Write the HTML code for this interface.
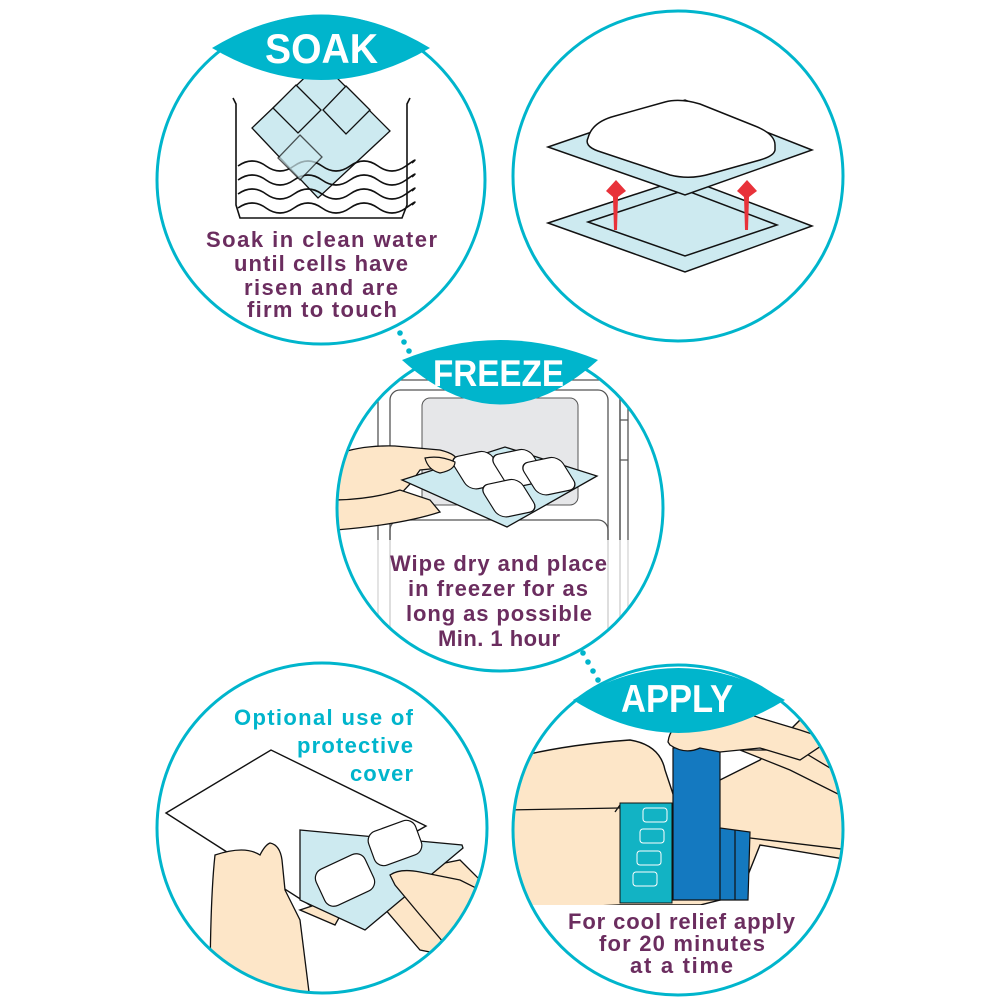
<!DOCTYPE html>
<html><head><meta charset="utf-8"><style>
html,body{margin:0;padding:0;background:#fff;}
svg{display:block;}
.t{font-family:"Liberation Sans",sans-serif;font-weight:bold;}
</style></head><body>
<svg width="1000" height="1000" viewBox="0 0 1000 1000" xmlns="http://www.w3.org/2000/svg">
<defs>
<clipPath id="c1"><circle cx="321" cy="180" r="164"/></clipPath>
<clipPath id="c3"><circle cx="500" cy="508" r="163"/></clipPath>
<clipPath id="c4"><circle cx="322" cy="828" r="165"/></clipPath>
<clipPath id="c5"><circle cx="678" cy="830" r="165"/></clipPath>
</defs>
<rect width="1000" height="1000" fill="#fff"/>

<!-- SOAK -->
<g clip-path="url(#c1)">
  <g fill="none" stroke="#111" stroke-width="1.6">
    <path d="M233,98 L236,104 L236,205 L240,218 L402,218 L407,205 L407,104 L410,98"/>
  </g>
  <g stroke="#111" stroke-width="1.3">
    <polygon points="321,62 390,131 318,198 252,128" fill="#cdeaf0"/>
    <polygon points="296,85 321,110 298,133 273,108" fill="#cdeaf0"/>
    <polygon points="346,86 370,110 346,134 323,110" fill="#cdeaf0"/>
  </g>
  <g fill="none" stroke="#111" stroke-width="1.6">
    <path d="M238,166 q14,-10 28,0 t28,0 t28,0 t28,0 t28,0 t28,0 t6,-3"/>
    <path d="M238,180 q14,-10 28,0 t28,0 t28,0 t28,0 t28,0 t28,0 t6,-3"/>
    <path d="M238,194 q14,-10 28,0 t28,0 t28,0 t28,0 t28,0 t28,0 t6,-3"/>
    <path d="M238,208 q14,-10 28,0 t28,0 t28,0 t28,0 t28,0 t28,0 t6,-3"/>
  </g>
  <polygon points="300,135 322,157 300,180 278,158" fill="#cdeaf0" stroke="#111" stroke-width="1.3" opacity="0.7"/>
</g>
<circle cx="321" cy="180" r="164" fill="none" stroke="#00b5cc" stroke-width="3"/>
<path d="M212,48 Q321,-18 430,48 Q321,112 212,48Z" fill="#00b5cc"/>
<text class="t" x="265" y="63" font-size="42" fill="#fff" textLength="113" lengthAdjust="spacingAndGlyphs">SOAK</text>
<g class="t" font-size="22" fill="#6b2d5f" lengthAdjust="spacingAndGlyphs">
  <text x="206" y="247" textLength="231">Soak in clean water</text>
  <text x="234" y="271" textLength="174">until cells have</text>
  <text x="244" y="295" textLength="154">risen and are</text>
  <text x="247" y="317" textLength="150">firm to touch</text>
</g>

<!-- TOP RIGHT -->
<circle cx="678" cy="176" r="165" fill="none" stroke="#00b5cc" stroke-width="3"/>
<g stroke="#111" stroke-width="1.5">
  <polygon points="548,223 685,178 812,226 685,272" fill="#cdeaf0"/>
  <polygon points="588,222 685,190 777,225 685,256" fill="#cdeaf0"/>
  <polygon points="548,147 685,100 812,150 685,195" fill="#cdeaf0"/>
  <path d="M588,138 Q592,122 615,116 L665,102 Q680,98 700,104 L755,126 Q775,134 775,145 L775,150 Q774,156 760,160 L710,174 Q690,180 670,175 L598,151 Q584,146 588,138Z" fill="#fff"/>
</g>
<g fill="#e8323a">
  <path d="M616,180 L626,191 L618,197 L617,230 L614,230 L613,197 L606,191Z"/>
  <path d="M747,180 L757,191 L749,197 L748,230 L745,230 L744,197 L737,191Z"/>
</g>

<!-- FREEZE -->
<g clip-path="url(#c3)">
  <g fill="none" stroke="#555" stroke-width="1.3">
    <rect x="378" y="380" width="242" height="300" rx="12"/>
    <rect x="390" y="390" width="218" height="290" rx="10"/>
    <rect x="390" y="520" width="218" height="160" rx="10"/>
    <path d="M620,395 V680 M628,400 V680 M620,420 h8 v40 h-8"/>
  </g>
  <rect x="422" y="398" width="156" height="107" rx="8" fill="#e6e7e9" stroke="#555" stroke-width="1"/>
  <path d="M335,455 Q360,445 395,446 L440,450 Q460,455 455,462 L440,468 L420,470 L410,484 L395,500 L370,510 L335,525Z" fill="#fde6c8" stroke="#111" stroke-width="1.3"/>
  <path d="M330,500 Q370,500 400,490 L430,500 L440,512 Q400,525 335,530Z" fill="#fde6c8" stroke="#111" stroke-width="1.3"/>
  <polygon points="402,480 505,447 597,476 507,527" fill="#cdeaf0" stroke="#111" stroke-width="1.3"/>
  <g fill="#fff" stroke="#111" stroke-width="1.2">
    <rect x="-20" y="-20" width="40" height="36" rx="9" transform="translate(480,472) rotate(-12) skewX(20)"/>
    <rect x="-20" y="-20" width="40" height="36" rx="9" transform="translate(520,470) rotate(-12) skewX(20)"/>
    <rect x="-20" y="-20" width="40" height="36" rx="9" transform="translate(550,478) rotate(-12) skewX(20)"/>
    <rect x="-20" y="-20" width="40" height="36" rx="9" transform="translate(510,500) rotate(-12) skewX(20)"/>
  </g>
  <path d="M425,458 Q440,455 455,462 Q455,470 440,473 Q428,470 425,458Z" fill="#fde6c8" stroke="#111" stroke-width="1.2"/>
  <rect x="360" y="540" width="280" height="120" fill="#fff" opacity="0.75"/>
</g>
<circle cx="500" cy="508" r="163" fill="none" stroke="#00b5cc" stroke-width="3"/>
<path d="M402,360 Q500,320 598,360 Q500,449 402,360Z" fill="#00b5cc"/>
<text class="t" x="433" y="386" font-size="37" fill="#fff" textLength="131" lengthAdjust="spacingAndGlyphs">FREEZE</text>
<g class="t" font-size="22" fill="#6b2d5f" lengthAdjust="spacingAndGlyphs">
  <text x="390" y="571" textLength="217">Wipe dry and place</text>
  <text x="408" y="596" textLength="180">in freezer for as</text>
  <text x="406" y="621" textLength="186">long as possible</text>
  <text x="438" y="646" textLength="122">Min. 1 hour</text>
</g>

<!-- BOTTOM LEFT -->
<g clip-path="url(#c4)">
  <path d="M166,813 L271,750 L426,826 L405,838 L330,918Z" fill="#fff" stroke="#111" stroke-width="1.4"/>
  <path d="M300,910 L335,925 L360,880 L420,950 L470,960 L490,890 L460,860 L400,872 L390,880Z" fill="#fde6c8" stroke="#111" stroke-width="1.3"/>
  <path d="M300,830 L462,845 L463,848 L365,930 L300,900Z" fill="#cdeaf0" stroke="#111" stroke-width="1.3"/>
  <rect x="-27" y="-20" width="54" height="40" rx="10" transform="translate(345,880) rotate(-25)" fill="#fff" stroke="#111" stroke-width="1.2"/>
  <rect x="-25" y="-18" width="50" height="36" rx="10" transform="translate(395,843) rotate(-20)" fill="#fff" stroke="#111" stroke-width="1.2"/>
  <path d="M215,855 Q245,845 260,855 Q265,845 270,843 Q280,845 282,860 L285,890 L300,920 L310,1000 L210,1000 Q210,900 215,855Z" fill="#fde6c8" stroke="#111" stroke-width="1.3"/>
  <path d="M390,875 Q400,868 420,872 L460,880 L480,890 L480,945 L450,950 L420,915 L395,885Z" fill="#fde6c8" stroke="#111" stroke-width="1.3"/>
</g>
<circle cx="322" cy="828" r="165" fill="none" stroke="#00b5cc" stroke-width="3"/>
<g class="t" font-size="22" fill="#00b5cc" lengthAdjust="spacingAndGlyphs">
  <text x="234" y="725" textLength="179">Optional use of</text>
  <text x="297" y="753" textLength="116">protective</text>
  <text x="350" y="781" textLength="63">cover</text>
</g>

<!-- APPLY -->
<g clip-path="url(#c5)">
  <path d="M505,760 Q560,745 630,740 Q660,745 665,770 L675,800 L700,790 L760,760 L800,720 L850,720 L850,860 L760,845 L740,895 L700,905 L620,905 L505,910Z" fill="#fde6c8" stroke="#111" stroke-width="1.4"/>
  <path d="M505,810 L620,808 M615,812 L620,805" fill="none" stroke="#111" stroke-width="1.3"/>
  <path d="M750,838 L850,850" fill="none" stroke="#111" stroke-width="1.3"/>
  <path d="M740,750 L800,750 L850,780 L850,800 L790,770Z" fill="#fde6c8" stroke="#111" stroke-width="1.3"/>
  <rect x="620" y="803" width="52" height="100" fill="#12b3c4" stroke="#111" stroke-width="1"/>
  <g fill="none" stroke="#fff" stroke-width="1">
    <rect x="643" y="808" width="24" height="14" rx="3"/>
    <rect x="640" y="829" width="24" height="14" rx="3"/>
    <rect x="637" y="851" width="24" height="14" rx="3"/>
    <rect x="633" y="872" width="24" height="14" rx="3"/>
  </g>
  <path d="M673,748 L720,745 L720,828 L750,832 L748,900 L673,900Z" fill="#1479c0" stroke="#111" stroke-width="1.2"/>
  <path d="M720,828 V900 M735,830 V900" stroke="#111" stroke-width="1.2"/>
  <path d="M668,742 Q670,725 690,718 L720,712 Q745,712 760,718 L800,730 L830,740 L800,760 L760,748 L720,752 L700,748 Q685,755 670,745Z" fill="#fde6c8" stroke="#111" stroke-width="1.3"/>
  <rect x="515" y="905" width="330" height="90" fill="#fff"/>
</g>
<circle cx="678" cy="830" r="165" fill="none" stroke="#00b5cc" stroke-width="3"/>
<path d="M573,700 Q678,636 785,700 Q678,766 573,700Z" fill="#00b5cc"/>
<text class="t" x="621" y="712" font-size="39" fill="#fff" textLength="112" lengthAdjust="spacingAndGlyphs">APPLY</text>
<g class="t" font-size="22" fill="#6b2d5f" lengthAdjust="spacingAndGlyphs">
  <text x="568" y="929" textLength="227">For cool relief apply</text>
  <text x="599" y="951" textLength="166">for 20 minutes</text>
  <text x="630" y="973" textLength="103">at a time</text>
</g>

<!-- dots -->
<g fill="#00b5cc">
  <circle cx="400" cy="333" r="2.8"/><circle cx="404" cy="342" r="2.8"/><circle cx="409" cy="351" r="2.8"/>
  <circle cx="583" cy="653" r="2.8"/><circle cx="588" cy="662" r="2.8"/><circle cx="593" cy="671" r="2.8"/><circle cx="598" cy="680" r="2.8"/>
</g>
</svg>
</body></html>
